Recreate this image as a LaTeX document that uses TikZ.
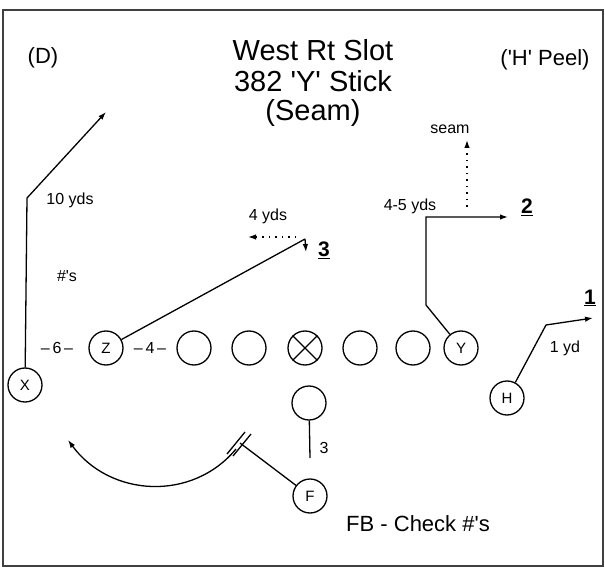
\documentclass[tikz,border=0pt]{standalone}
\usepackage{fontspec}
\setmainfont{Liberation Sans}
\usetikzlibrary{arrows.meta}

\begin{document}
\begin{tikzpicture}[x=1pt,y=-1pt,>={Latex[length=8pt,width=5.5pt]}]
  \tikzstyle{player}=[draw,circle,line width=1.3pt,minimum size=34pt,inner sep=0pt,font=\fontsize{15}{15}\selectfont]
  \tikzstyle{route}=[line width=1.3pt]
  \tikzstyle{option}=[line width=1.3pt,dash pattern=on 1.5pt off 5pt]
  \tikzstyle{head}=[anchor=base,inner sep=0pt,font=\fontsize{29}{30}\selectfont]
  \tikzstyle{side}=[inner sep=0pt,font=\fontsize{22}{22}\selectfont]
  \tikzstyle{yds}=[inner sep=0pt,font=\fontsize{16}{16}\selectfont]
  \tikzstyle{hole}=[inner sep=0pt,font=\fontsize{21}{21}\selectfont\bfseries]
  \useasboundingbox (0,0) rectangle (605,572);
  \draw[line width=2pt,black!75] (3,10) rectangle (603,566);
  % title and notes
  \node[head] (t1) at (313,61) {West Rt Slot};
  \node[head] (t2) at (313,92) {382 \textquotesingle Y\textquotesingle{} Stick};
  \node[head] (t3) at (313,121) {(Seam)};
  \node[side] (dnote) at (43,58) {(D)};
  \node[side] (peel) at (545,60) {(\textquotesingle H\textquotesingle{} Peel)};
  \node[side] (check) at (418,524) {FB - Check \#\textquotesingle s};
  % formation
  \node[player] (Z) at (106,348) {Z};
  \foreach \n/\x in {lt/194,lg/249,c/305,rg/360,rt/413}
    \node[player] (\n) at (\x,348) {};
  \draw[line width=1.3pt] (c.north west) -- (c.south east) (c.north east) -- (c.south west);
  \node[player] (Y) at (461,348) {Y};
  \node[player] (X) at (25,385) {X};
  \node[player] (H) at (507,398) {H};
  \node[player] (qb) at (309,403) {};
  \node[player] (F) at (310,496) {F};
  \node[yds] (six) at (57,348) {--\,6\,--};
  \node[yds] (four) at (150,348) {--\,4\,--};
  % X route
  \coordinate (xbend) at (27,198);
  \coordinate (xend) at (106,112);
  \draw[route,->] (X) -- (xbend) -- (xend);
  \node[yds] (ten) at (70,200) {10 yds};
  \node[yds] (nums) at (67,276) {\#\textquotesingle s};
  % Z route
  \coordinate (zstem) at (305,239);
  \coordinate (zsit) at (306,252);
  \coordinate (zopt) at (296,237);
  \coordinate (zout) at (248,237);
  \draw[route] (Z) -- (zstem);
  \draw[route,->] (zstem) -- (zsit);
  \draw[option,->] (zopt) -- (zout);
  \node[yds] (zyds) at (268,216) {4 yds};
  \node[hole] (three) at (324,250) {\underline{3}};
  % Y route
  \coordinate (ylean) at (426,305);
  \coordinate (ystem) at (426,217);
  \coordinate (yout) at (508,217);
  \coordinate (yseam) at (467,207);
  \coordinate (ytop) at (467,140);
  \draw[route,->] (Y) -- (ylean) -- (ystem) -- (yout);
  \draw[option,->] (yseam) -- (ytop);
  \node[yds] (seam) at (450,129) {seam};
  \node[yds] (yyds) at (410,206) {4-5 yds};
  \node[hole] (two) at (527,207) {\underline{2}};
  % H route
  \coordinate (hbend) at (546,325);
  \coordinate (hend) at (593,318);
  \draw[route,->] (H) -- (hbend) -- (hend);
  \node[yds] (hyd) at (565,348) {1 yd};
  \node[hole] (one) at (590,298) {\underline{1}};
  % QB and FB
  \coordinate (qbend) at (310,458);
  \draw[route] (qb) -- (qbend);
  \node[yds] (qbnum) at (324,448) {3};
  \coordinate (fcut) at (240,443);
  \coordinate (farc) at (236,449);
  \coordinate (fend) at (68,440);
  \draw[route] (F) -- (fcut);
  \draw[route] (227,454) -- (245,432) (233,456) -- (251,434);
  \draw[route,->] (farc) .. controls (192,502) and (110,497) .. (fend);
\end{tikzpicture}
\end{document}
